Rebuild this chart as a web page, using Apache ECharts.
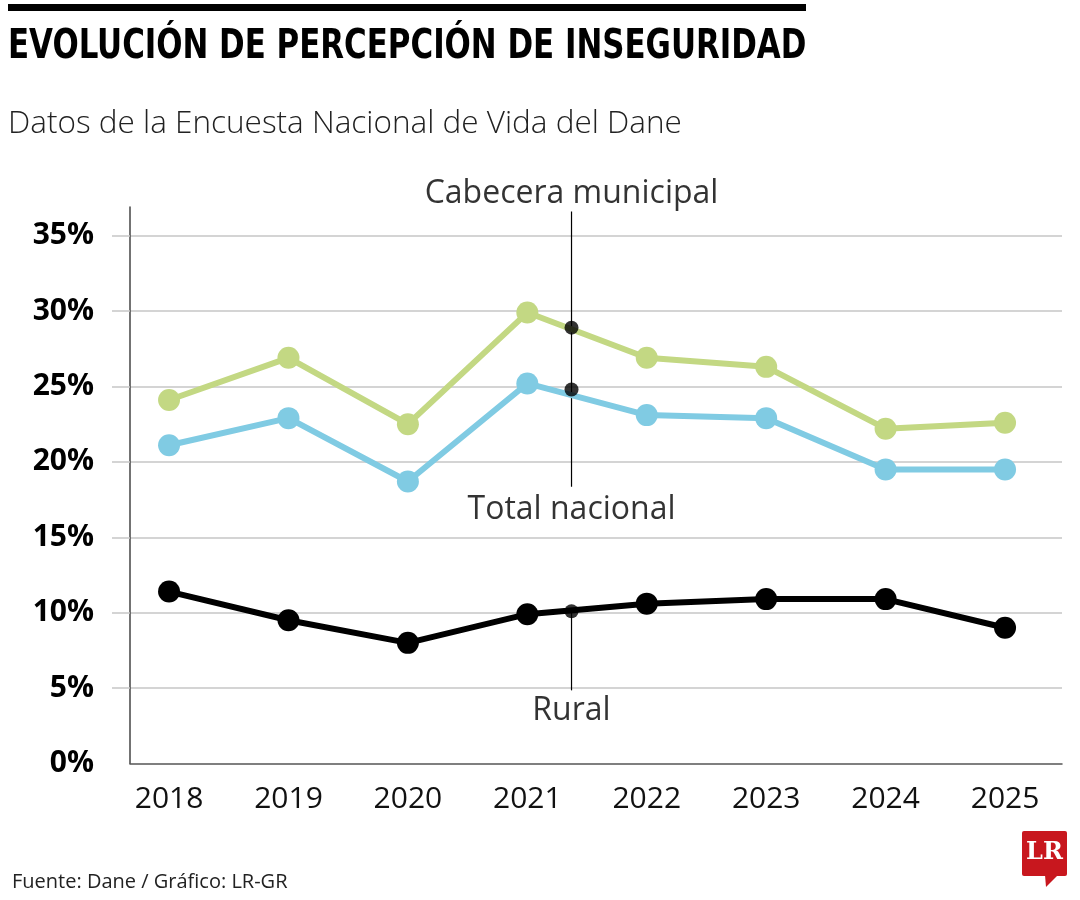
<!DOCTYPE html>
<html>
<head>
<meta charset="utf-8">
<script src="https://cdn.jsdelivr.net/npm/echarts@6/dist/echarts.min.js"></script>
<style>
html,body{margin:0;padding:0;background:#fff;}
#chart{width:1080px;height:900px;}
</style>
</head>
<body>
<div id="chart"></div>
<script>
// ---- Data ----
const years = [2018, 2019, 2020, 2021, 2022, 2023, 2024, 2025];
const cabecera = [24.1, 26.9, 22.5, 29.9, 26.9, 26.3, 22.2, 22.6];
const totalNacional = [21.1, 22.9, 18.7, 25.2, 23.1, 22.9, 19.5, 19.5];
const rural = [11.4, 9.5, 8.0, 9.9, 10.6, 10.9, 10.9, 9.0];
const yTicks = [0, 5, 10, 15, 20, 25, 30, 35];
const seriesNames = ['Cabecera municipal', 'Total nacional', 'Rural'];
// callout (annotation) between 2021 and 2022
const calloutX = 2021.37;
const calloutDots = [28.9, 24.8, 10.1];
const calloutLabelY = [37.8, 16.8, 3.5];
const calloutSegments = [[36.6, 18.35], [10.1, 4.85]];

const pairs = arr => arr.map((v, i) => [years[i], v]);

const GREEN = '#c3d883';
const BLUE = '#80cbe3';
const BLACK = '#000000';
const FONT = '"Open Sans", "Noto Sans", sans-serif';

function lineSeries(name, data, color) {
  return {
    name, type: 'line', data: pairs(data),
    symbol: 'circle', symbolSize: 22,
    lineStyle: { color, width: 6 },
    itemStyle: { color },
    z: 3, silent: true
  };
}

const series = [
  ...calloutSegments.map(seg => ({
    type: 'line', data: seg.map(v => [calloutX, v]),
    symbol: 'none', lineStyle: { color: '#000', width: 1.2 },
    z: 2, silent: true, clip: false
  })),
  lineSeries(seriesNames[0], cabecera, GREEN),
  lineSeries(seriesNames[1], totalNacional, BLUE),
  lineSeries(seriesNames[2], rural, BLACK),
  {
    type: 'scatter', data: calloutDots.map(v => [calloutX, v]),
    symbolSize: 14, itemStyle: { color: '#000' }, z: 5, silent: true
  },
  {
    type: 'scatter', clip: false, z: 6, silent: true,
    data: seriesNames.map((n, i) => ({ name: n, value: [calloutX, calloutLabelY[i]] })),
    symbolSize: 1, itemStyle: { color: 'rgba(0,0,0,0)' },
    label: {
      show: true, position: 'inside', formatter: p => p.name,
      fontFamily: FONT, fontSize: 32, color: '#000', textBorderWidth: 0
    }
  }
];

const chart = echarts.init(document.getElementById('chart'), null, { renderer: 'canvas' });
chart.setOption({
  animation: false,
  backgroundColor: '#fff',
  grid: { left: 130, right: 18, top: 207, bottom: 136.5 },
  xAxis: {
    type: 'value', min: 2017.673, max: 2025.477,
    axisLine: { show: true, lineStyle: { color: '#555', width: 1.5 } },
    axisTick: { show: false },
    splitLine: { show: false },
    axisLabel: {
      customValues: years, formatter: v => String(v),
      fontFamily: FONT, fontSize: 30, color: '#111', margin: 21
    }
  },
  yAxis: {
    type: 'value', min: 0, max: 36.9,
    axisLine: { show: true, lineStyle: { color: '#444', width: 1.5 } },
    axisTick: { show: true, customValues: yTicks.slice(1), length: 18, lineStyle: { color: '#c6c6c6', width: 1.5 } },
    splitLine: { show: true, lineStyle: { color: '#c6c6c6', width: 1.5 } },
    axisLabel: {
      customValues: yTicks, formatter: v => v + '%',
      fontFamily: FONT, fontWeight: 'bold', fontSize: 30, color: '#000', margin: 36
    }
  },
  graphic: [
    { type: 'rect', shape: { x: 8, y: 4, width: 798, height: 7 }, style: { fill: '#000' } },
    { type: 'text', x: 8, y: 48, scaleX: 0.858, style: { text: 'EVOLUCIÓN DE PERCEPCIÓN DE INSEGURIDAD', fontFamily: '"Liberation Sans Narrow", "DejaVu Sans Condensed", sans-serif', fontWeight: 'bold', fontSize: 40, fill: '#000', verticalAlign: 'middle' } },
    { type: 'text', x: 8, y: 124, style: { text: 'Datos de la Encuesta Nacional de Vida del Dane', fontFamily: FONT, fontWeight: 300, fontSize: 31.5, fill: '#222', verticalAlign: 'middle' } },
    { type: 'text', x: 12, y: 882, style: { text: 'Fuente: Dane / Gráfico: LR-GR', fontFamily: FONT, fontSize: 20, fill: '#222', verticalAlign: 'middle' } },
    { type: 'group', children: [
      { type: 'rect', shape: { x: 1022, y: 831, width: 45, height: 45, r: 2 }, style: { fill: '#c8171e' } },
      { type: 'polygon', shape: { points: [[1045, 875], [1058, 875], [1046, 887]] }, style: { fill: '#c8171e' } },
      { type: 'text', x: 1044.5, y: 853, style: { text: 'LR', fontFamily: '"DejaVu Serif", "Liberation Serif", serif', fontWeight: 'bold', fontSize: 24, fill: '#fff', align: 'center', verticalAlign: 'middle' } }
    ] }
  ],
  series
});
</script>
</body>
</html>
